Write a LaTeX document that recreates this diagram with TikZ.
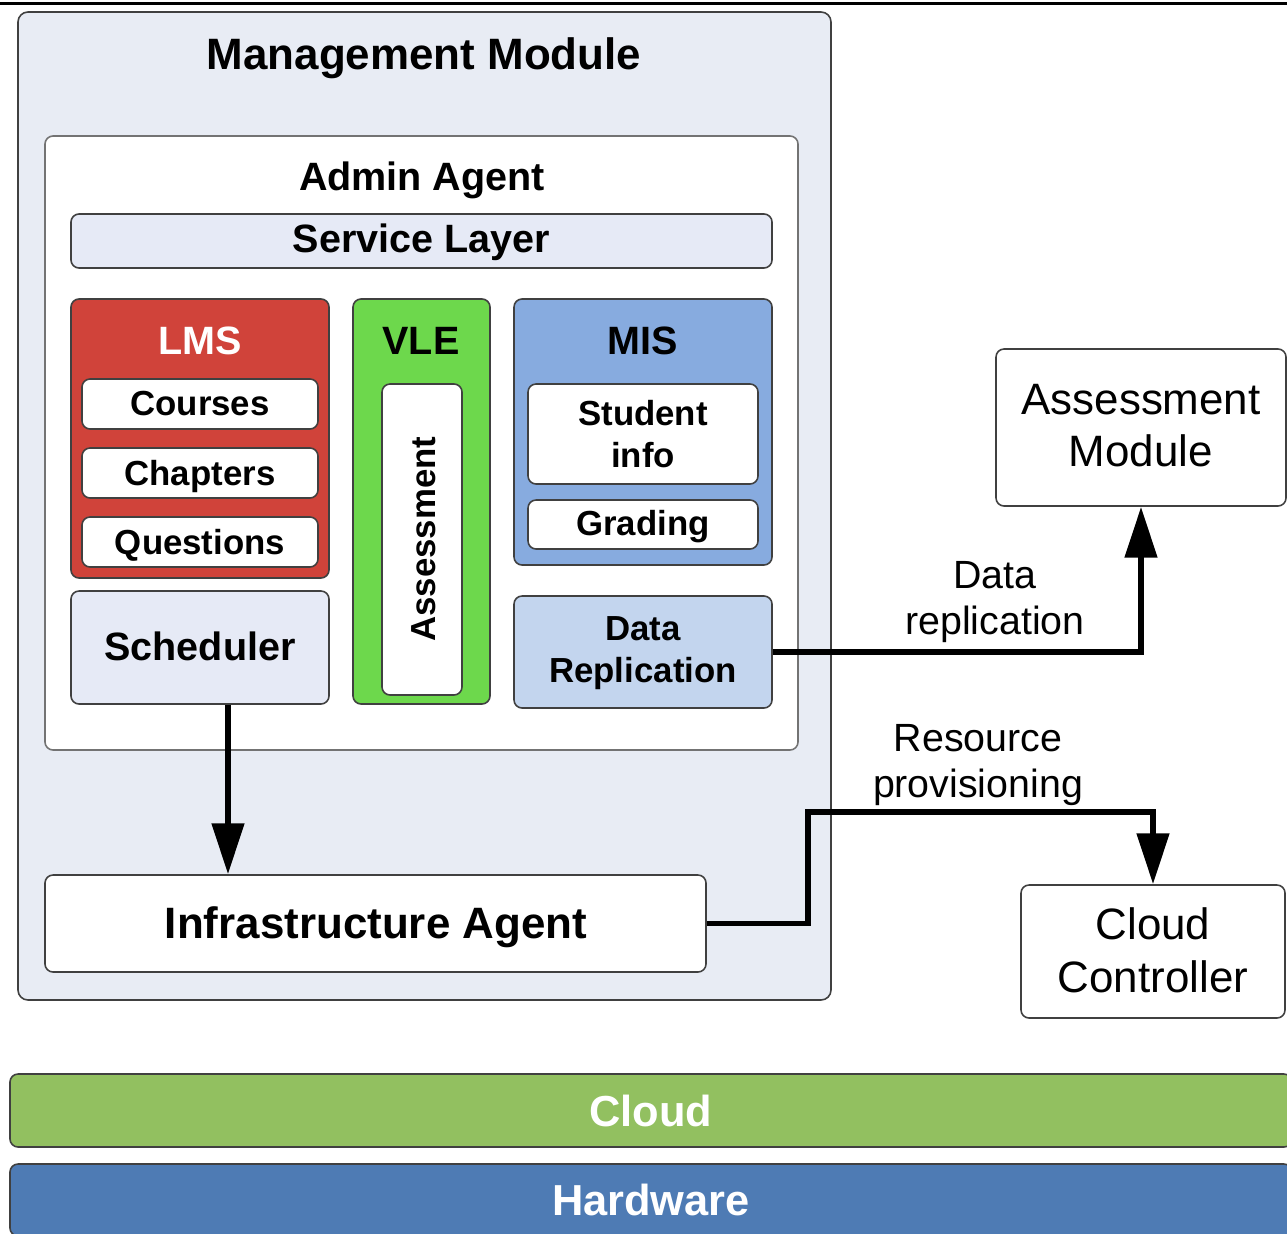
\documentclass[tikz,border=0pt]{standalone}
\usepackage{fontspec}
\setmainfont{Liberation Sans}
\usetikzlibrary{fit,arrows.meta}

\definecolor{mgmtfill}{HTML}{E8ECF4}
\definecolor{paleblue}{HTML}{E6EAF6}
\definecolor{lmsred}{HTML}{D0433A}
\definecolor{vlegreen}{HTML}{6DD84C}
\definecolor{misblue}{HTML}{87ABDF}
\definecolor{drblue}{HTML}{C3D5EE}
\definecolor{cloudgreen}{HTML}{92C060}
\definecolor{hwblue}{HTML}{4E7BB4}

\begin{document}
\begin{tikzpicture}[x=0.02cm,y=-0.02cm,
  panel/.style={draw=black!75, line width=0.9pt, rounded corners=0.16cm, inner sep=0pt},
  bigbold/.style={font=\fontsize{25}{30}\selectfont\bfseries},
  midbold/.style={font=\fontsize{22.5}{27}\selectfont\bfseries},
  smallbold/.style={font=\fontsize{19.8}{24}\selectfont\bfseries, align=center},
  plainbig/.style={font=\fontsize{25}{30}\selectfont, align=center},
  note/.style={font=\fontsize{22.4}{26.5}\selectfont, align=center},
  barlabel/.style={font=\fontsize{24.7}{30}\selectfont\bfseries, text=white},
  flow/.style={line width=3.4pt, line join=miter, -{Triangle[length=29pt,width=18pt]}}
]
\clip (0,0) rectangle (1287,1233);

% rule along the top edge
\draw[line width=2pt] (0,3.3) -- (1287,3.3);

% management module and its admin agent
\node[panel, fill=mgmtfill, rounded corners=0.2cm, fit={(18,12) (831,1000)}] (mgmt) {};
\node[bigbold, anchor=base] (mgmttitle) at (424,70) {Management Module};

\node[panel, draw=black!55, fill=white, fit={(45,136) (798,750)}] (admin) {};
\node[midbold, anchor=base] (admintitle) at (422,191) {Admin Agent};

\node[panel, fill=paleblue, fit={(71,214) (772,268)}] (svc) {};
\node[midbold] (svctext) at ([yshift=-0.03cm]svc.center) {Service Layer};

% LMS column
\node[panel, fill=lmsred, fit={(71,299) (329,578)}] (lms) {};
\node[midbold, text=white, anchor=base] (lmstitle) at (200,354) {LMS};
\node[panel, fill=white, fit={(82,379) (318,429)}] (courses) {};
\node[smallbold] (coursestext) at (courses.center) {Courses};
\node[panel, fill=white, fit={(82,448) (318,498)}] (chapters) {};
\node[smallbold, anchor=base] (chapterstext) at (200,485) {Chapters};
\node[panel, fill=white, fit={(82,517) (318,567)}] (questions) {};
\node[smallbold, anchor=base] (questionstext) at (200,554) {Questions};

\node[panel, fill=paleblue, fit={(71,591) (329,704)}] (sched) {};
\node[midbold] (schedtext) at ([yshift=0.03cm]sched.center) {Scheduler};

% VLE column
\node[panel, fill=vlegreen, fit={(353,299) (490,704)}] (vle) {};
\node[midbold, anchor=base] (vletitle) at (421,354) {VLE};
\node[panel, fill=white, fit={(382,384) (462,695)}] (assessbox) {};
\node[smallbold, rotate=90] (assesstext) at (424,539) {Assessment};

% MIS column
\node[panel, fill=misblue, fit={(514,299) (772,565)}] (mis) {};
\node[midbold, anchor=base] (mistitle) at (643,354) {MIS};
\node[panel, fill=white, fit={(528,384) (758,484)}] (student) {};
\node[smallbold] (studenttext) at (student.center) {Student\\info};
\node[panel, fill=white, fit={(528,500) (758,549)}] (grading) {};
\node[smallbold, anchor=base] (gradingtext) at (643,535) {Grading};

\node[panel, fill=drblue, fit={(514,596) (772,708)}] (dr) {};
\node[smallbold] (drtext) at ([yshift=-0.03cm]dr.center) {Data\\Replication};

% infrastructure agent
\node[panel, fill=white, fit={(45,875) (706,972)}] (infra) {};
\node[bigbold, anchor=base] (infratext) at (376,938) {Infrastructure Agent};

% external modules
\node[panel, fill=white, fit={(996,349) (1286,506)}] (am) {};
\node[plainbig] (amtext) at ([yshift=0.04cm]am.center) {Assessment\\Module};
\node[panel, fill=white, fit={(1021,885) (1285,1018)}] (cc) {};
\node[plainbig] (cctext) at ([yshift=0.02cm]cc.center) {Cloud\\Controller};

% platform layers
\node[panel, fill=cloudgreen, fit={(10,1074) (1292,1147)}] (cloud) {};
\node[barlabel] (cloudtext) at (cloud.center) {Cloud};
\node[panel, fill=hwblue, fit={(10,1164) (1292,1236)}] (hw) {};
\node[barlabel] (hwtext) at (hw.center) {Hardware};

% connectors
\draw[flow] ([xshift=0.56cm]sched.south) -- ([xshift=0.56cm]sched.south |- infra.north);
\draw[flow] (dr.east) -| (am.south);
\coordinate (bend) at (808,812);
\draw[flow] (infra.east) -| (bend) -| (cc.north);

\node[note] (lbldata) at (995,602) {Data\\replication};
\node[note] (lblres) at (978,765) {Resource\\provisioning};
\end{tikzpicture}
\end{document}
